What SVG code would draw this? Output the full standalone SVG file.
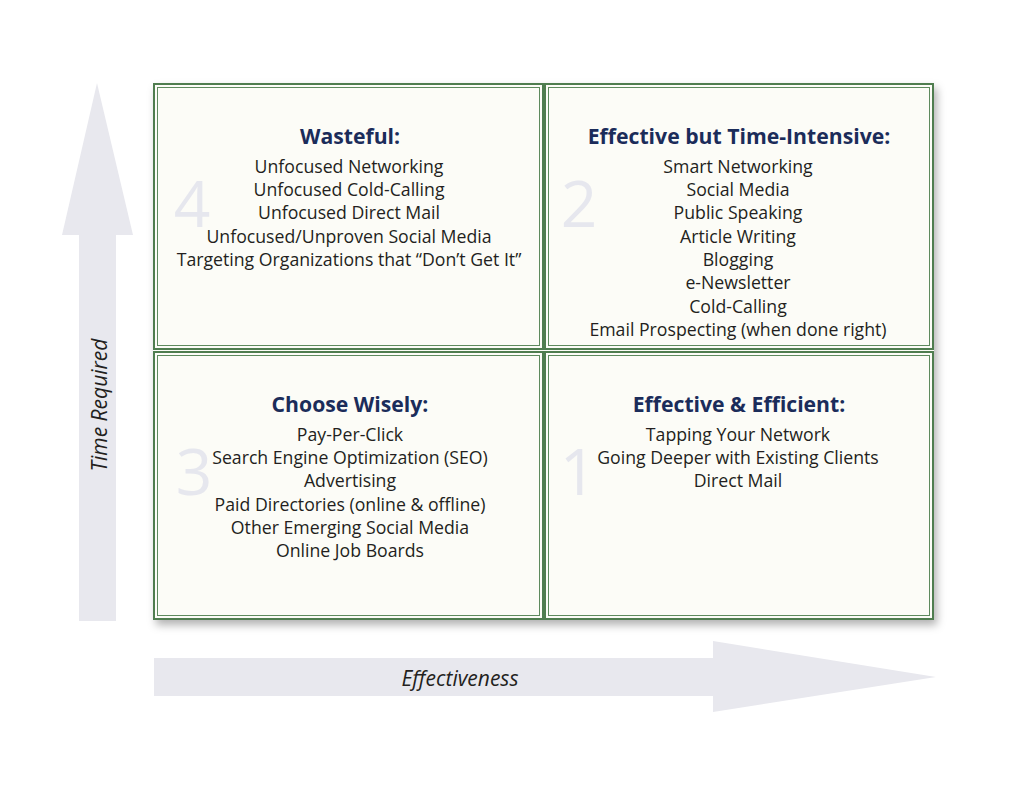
<svg xmlns="http://www.w3.org/2000/svg" width="1024" height="791" viewBox="0 0 1024 791">
<defs>
<filter id="shadow" x="-5%" y="-5%" width="115%" height="115%">
<feDropShadow dx="3" dy="5" stdDeviation="4" flood-color="#000" flood-opacity="0.3"/>
</filter>
<style>
.cell{fill:#fcfcf7;stroke:#4f7d4f;stroke-width:2}
.inner{fill:none;stroke:#5e8a5e;stroke-width:1}
.title{font-family:"Open Sans",Lato,sans-serif;font-weight:bold;font-size:21.2px;fill:#1b2c5a;text-anchor:middle}
.item{font-family:"Open Sans",Lato,sans-serif;font-size:17.7px;fill:#231f20;text-anchor:middle}
.num{font-family:"Open Sans",Lato,sans-serif;font-size:64px;fill:#e6e7ee;text-anchor:middle}
.axis{fill:#e8e8ee}
.axlabel{font-family:"Open Sans",Lato,sans-serif;font-style:italic;font-size:21px;fill:#231f20;text-anchor:middle}
</style>
</defs>
<rect width="1024" height="791" fill="#ffffff"/>
<g id="connectors">
<polygon class="axis" points="79,621 116,621 116,235 133,235 97,83 62,235 79,235"/>
<polygon class="axis" points="154,658 713,658 713,641 936,677 713,712 713,696 154,696"/>
<text class="axlabel" transform="translate(107,405) rotate(-90)">Time Required</text>
<text class="axlabel" x="460" y="686">Effectiveness</text>
</g>
<rect x="153" y="83" width="781" height="537" fill="#fcfcf7" filter="url(#shadow)"/>
<g id="q4">
<rect class="cell" x="154" y="84" width="389" height="265"/>
<rect class="inner" x="157.5" y="87.5" width="382" height="258"/>
<text class="num" x="192" y="227">4</text>
<text class="title" x="350" y="144">Wasteful:</text>
<text class="item" x="349" y="173">Unfocused Networking</text>
<text class="item" x="349" y="196">Unfocused Cold-Calling</text>
<text class="item" x="349" y="219">Unfocused Direct Mail</text>
<text class="item" x="349" y="243">Unfocused/Unproven Social Media</text>
<text class="item" x="349" y="266">Targeting Organizations that “Don’t Get It”</text>
</g>
<g id="q2">
<rect class="cell" x="545" y="84" width="388" height="265"/>
<rect class="inner" x="548.5" y="87.5" width="381" height="258"/>
<text class="num" x="579" y="227">2</text>
<text class="title" x="739" y="144">Effective but Time-Intensive:</text>
<text class="item" x="738" y="173">Smart Networking</text>
<text class="item" x="738" y="196">Social Media</text>
<text class="item" x="738" y="219">Public Speaking</text>
<text class="item" x="738" y="243">Article Writing</text>
<text class="item" x="738" y="266">Blogging</text>
<text class="item" x="738" y="289">e-Newsletter</text>
<text class="item" x="738" y="313">Cold-Calling</text>
<text class="item" x="738" y="336">Email Prospecting (when done right)</text>
</g>
<g id="q3">
<rect class="cell" x="154" y="352" width="389" height="267"/>
<rect class="inner" x="157.5" y="355.5" width="382" height="260"/>
<text class="num" x="194" y="495">3</text>
<text class="title" x="350" y="412">Choose Wisely:</text>
<text class="item" x="350" y="441">Pay-Per-Click</text>
<text class="item" x="350" y="464">Search Engine Optimization (SEO)</text>
<text class="item" x="350" y="487">Advertising</text>
<text class="item" x="350" y="511">Paid Directories (online &amp; offline)</text>
<text class="item" x="350" y="534">Other Emerging Social Media</text>
<text class="item" x="350" y="557">Online Job Boards</text>
</g>
<g id="q1">
<rect class="cell" x="545" y="352" width="388" height="267"/>
<rect class="inner" x="548.5" y="355.5" width="381" height="260"/>
<text class="num" x="578" y="495">1</text>
<text class="title" x="739" y="412">Effective &amp; Efficient:</text>
<text class="item" x="738" y="441">Tapping Your Network</text>
<text class="item" x="738" y="464">Going Deeper with Existing Clients</text>
<text class="item" x="738" y="487">Direct Mail</text>
</g>
</svg>
